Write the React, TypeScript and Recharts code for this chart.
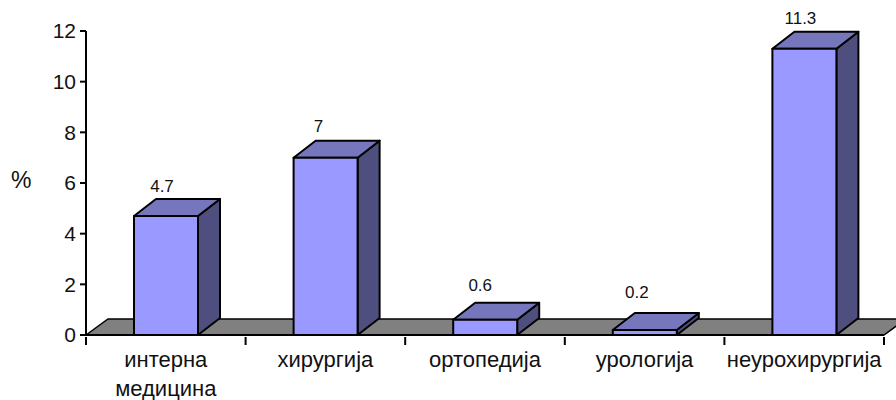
import { BarChart, Bar, XAxis, YAxis, LabelList, ReferenceArea } from "recharts";

const categories = ["интерна медицина", "хирургија", "ортопедија", "урологија", "неурохирургија"];
const percentages = [4.7, 7, 0.6, 0.2, 11.3];
const yTicks = [0, 2, 4, 6, 8, 10, 12];

const data = categories.map((name, i) => ({ name, value: percentages[i] }));

const FONT = "'Liberation Sans', Arial, sans-serif";
const DX = 22;
const DY = 17;
const BAND = 159.6;

// the value labels do not sit at a constant distance from the bars in the original
const labelNudgeX = [-4, -7, -5, -8, -4];
const labelNudgeY = [-24, -26, -29, -32, -25];

// 3D box: front, top and side faces
function Box3D(props: any) {
  const { x, y, width, height } = props;
  const r = x + width;
  const b = y + height;
  return (
    <g stroke="#000" strokeWidth={2} strokeLinejoin="round">
      <polygon
        points={`${r},${y} ${r + DX},${y - DY} ${r + DX},${b - DY} ${r},${b}`}
        fill="#4f4f7f"
      />
      <polygon
        points={`${x},${y} ${x + DX},${y - DY} ${r + DX},${y - DY} ${r},${y}`}
        fill="#7676bd"
      />
      <rect x={x} y={y} width={width} height={height} fill="#9999ff" />
    </g>
  );
}

// grey floor under the bars
function Floor(props: any) {
  const { x, y, width } = props;
  const r = x + width;
  return (
    <polygon
      points={`${x},${y} ${x + DX},${y - 16} ${r + DX},${y - 16} ${r},${y}`}
      fill="#808080"
      stroke="#000"
      strokeWidth={1.5}
    />
  );
}

// tick marks sit between the categories, so they are drawn with the label
function CategoryTick(props: any) {
  const { x, y, payload, index } = props;
  const lines = String(payload.value).split(" ");
  const axisY = y - 8;
  return (
    <g>
      <line x1={x - BAND / 2} x2={x - BAND / 2} y1={axisY} y2={axisY + 8} stroke="#000" strokeWidth={2} />
      {index === categories.length - 1 && (
        <line x1={x + BAND / 2} x2={x + BAND / 2} y1={axisY} y2={axisY + 8} stroke="#000" strokeWidth={2} />
      )}
      <text x={x} y={y} textAnchor="middle" fontFamily={FONT} fontSize={22} fill="#111">
        {lines.map((line, i) => (
          <tspan key={line} x={x} y={y + 22 + i * 29}>
            {line}
          </tspan>
        ))}
      </text>
    </g>
  );
}

function ValueLabel(props: any) {
  const { x, y, width, value, index } = props;
  return (
    <text
      x={x + width / 2 + labelNudgeX[index]}
      y={y + labelNudgeY[index]}
      textAnchor="middle"
      fontFamily={FONT}
      fontSize={17}
      fill="#111"
    >
      {value}
    </text>
  );
}

export default function App() {
  return (
    <div style={{ position: "absolute", left: 0, top: 0, width: 896, height: 400, background: "#fff", overflow: "hidden" }}>
      <BarChart
        width={896}
        height={400}
        data={data}
        margin={{ top: 31, right: 12, bottom: 0, left: 0 }}
        barSize={64}
        style={{ overflow: "visible" }}
      >
        <ReferenceArea y1={0} y2={0} shape={<Floor />} ifOverflow="visible" />
        <XAxis
          dataKey="name"
          height={65}
          interval={0}
          stroke="#000"
          strokeWidth={2}
          tickSize={8}
          tick={<CategoryTick />}
          tickLine={false}
        />
        <YAxis
          width={86}
          domain={[0, 12]}
          ticks={yTicks}
          stroke="#000"
          strokeWidth={2}
          tickSize={6}
          tickMargin={4}
          tick={{ fontFamily: FONT, fontSize: 21, fill: "#111" }}
          label={{ value: "%", position: "insideLeft", offset: 11, dy: -3, fontFamily: FONT, fontSize: 23, fill: "#111" }}
        />
        <Bar dataKey="value" shape={<Box3D />} isAnimationActive={false}>
          <LabelList dataKey="value" content={<ValueLabel />} />
        </Bar>
      </BarChart>
    </div>
  );
}
